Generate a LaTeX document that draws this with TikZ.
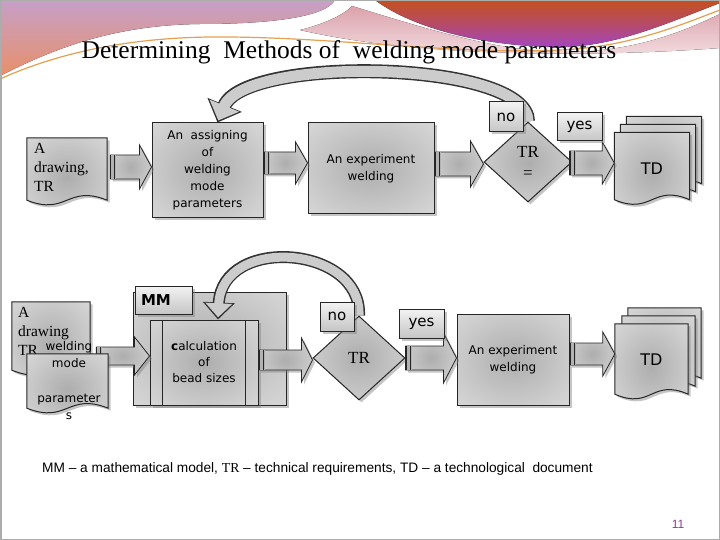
\documentclass[tikz,border=0pt]{standalone}
\usepackage{fontspec}
\setmainfont{Liberation Serif}
\newfontfamily\dvs{DejaVu Sans}
\newfontfamily\arl{Liberation Sans}
\usetikzlibrary{shapes.geometric,shadows,calc,arrows.meta}

\definecolor{swpurple}{HTML}{C6A0C8}
\definecolor{sworange}{HTML}{E8906A}
\definecolor{swred}{HTML}{C4501E}
\definecolor{swviolet}{HTML}{A445C0}
\definecolor{swpink}{HTML}{DCA2AC}
\definecolor{swgold}{HTML}{E2A050}
\definecolor{pagenum}{HTML}{8E3C8E}

\pgfdeclareradialshading{softgray}{\pgfpoint{0bp}{0bp}}{%
  color(0bp)=(gray!64); color(28bp)=(gray!38); color(50bp)=(gray!20); color(80bp)=(gray!12)}

\tikzset{
  shd/.style={drop shadow={shadow xshift=2.5pt,shadow yshift=-2.5pt,opacity=0.45}},
  boxst/.style={shd, draw=black!85, line width=1pt, shade, shading=softgray, inner sep=0pt},
  docst/.style={shd, draw=black!85, line width=1pt, shade, shading=softgray},
  arrst/.style={shd, draw=black!85, line width=0.8pt, shade, shading=softgray},
  tabst/.style={shd, draw=black!85, line width=1pt, top color=gray!10, bottom color=gray!45, inner sep=0pt},
  boxtxt/.style={font=\dvs\fontsize{12}{17}\selectfont, align=center},
  doctxt/.style={font=\rmfamily\fontsize{15.5}{19}\selectfont, align=left, anchor=north west, inner sep=0pt},
  tabtxt/.style={font=\dvs\fontsize{15}{15}\selectfont},
  docframe/.style={inner sep=0pt},
  curveout/.style={line width=14pt, draw=black!80, -{Triangle[length=19pt,width=36pt]}},
  curvein/.style={line width=11pt, draw=gray!40, shorten >=2.2pt, -{Triangle[length=16pt,width=31pt]}},
  curveoutb/.style={line width=12pt, draw=black!80, -{Triangle[length=17pt,width=31pt]}},
  curveinb/.style={line width=9pt, draw=gray!40, shorten >=2.2pt, -{Triangle[length=14pt,width=26pt]}},
}

% document shape drawn around a frame node; #2,#3 = shift right / up
\newcommand\docshape[3]{%
  \path[docst] let \p1=(#1.north west), \p2=(#1.south east), \n1={\x2-\x1} in
    (\x1+#2,\y1+#3) -- (\x2+#2,\y1+#3) -- (\x2+#2,\y2+#3)
    .. controls (\x1+0.5*\n1+#2,\y2+#3+16) and (\x1+0.5*\n1+#2,\y2+#3-16) .. (\x1+#2,\y2+#3) -- cycle;
}
% block arrow: #1 tail point, #2 tip point, #3 y (pixel), #4 shaft half, #5 head half, #6 head length
\newcommand\barrow[6]{%
  \path[arrst] let \p1=(#1), \p2=(#2), \p3=(0,#3) in
    (\x1,\y3+#4) -- (\x2-#6,\y3+#4) -- (\x2-#6,\y3+#5) -- (\x2,\y3) --
    (\x2-#6,\y3-#5) -- (\x2-#6,\y3-#4) -- (\x1,\y3-#4) -- cycle;
  \fill[gray!60] let \p1=(#1), \p3=(0,#3) in (\x1,\y3-#4) rectangle (\x1+6,\y3+#4);
  \draw[black!85, line width=0.9pt] let \p1=(#1), \p3=(0,#3) in
    (\x1+0.5,\y3-#4) -- (\x1+0.5,\y3+#4) (\x1+4.5,\y3-#4) -- (\x1+4.5,\y3+#4);
}

\begin{document}
\begin{tikzpicture}[x=1pt,y=-1pt]
\useasboundingbox (0,0) rectangle (720,540);
\fill[white] (0,0) rectangle (720,540);

% ---------- decorative header ----------
\fill[top color=swpurple, bottom color=sworange]
  (0,0) -- (335,0) .. controls (325,18) and (265,24) .. (200,24)
  .. controls (120,25) and (60,45) .. (0,76) -- cycle;
\fill[top color=swpink, bottom color=swpink!35]
  (300,30) .. controls (325,24) and (345,14) .. (352,6)
  .. controls (430,30) and (500,52) .. (565,52)
  .. controls (640,52) and (690,28) .. (720,14) -- (720,48)
  .. controls (600,57) and (420,58) .. (300,30) -- cycle;
\fill[top color=swred, bottom color=swviolet, middle color=swred!55!swviolet]
  (375,0) -- (720,0) -- (720,3) .. controls (670,22) and (615,47) .. (560,47)
  .. controls (490,47) and (415,30) .. (375,0) -- cycle;
\draw[swgold, line width=1.2pt] (0,79) .. controls (60,52) and (130,38) .. (210,37)
  .. controls (330,36) and (450,55) .. (560,50) .. controls (630,47) and (680,25) .. (720,10);

\node[font=\rmfamily\fontsize{25.5}{30}\selectfont, anchor=base] (title) at (349,59)
  {Determining\ \ Methods of\ \ welding mode parameters};

% ---------- top row ----------
\node[docframe, minimum width=80pt, minimum height=62pt] (doc1) at (67,169) {};
\docshape{doc1}{0}{0}
\node[doctxt] (doc1t) at (34,143) {A\\drawing,\\TR};

\node[boxst, boxtxt, minimum width=111pt, minimum height=95pt] (box1) at (207.5,170.5)
  {An\ \ assigning\\of\\welding\\mode\\parameters};
\node[boxst, boxtxt, minimum width=126pt, minimum height=91pt] (box2) at (371,168.5)
  {An experiment\\welding};
\node[diamond, boxst, minimum width=88pt, minimum height=80pt, align=center,
      font=\rmfamily\fontsize{17}{21}\selectfont] (dia1) at (528,162) {TR\\=};

\node[docframe, minimum width=75pt, minimum height=67pt] (td1) at (652,166) {};
\docshape{td1}{12}{16}
\docshape{td1}{6}{8}
\docshape{td1}{0}{0}
\node[tabtxt, font=\dvs\fontsize{16}{16}\selectfont] (td1t) at ([yshift=-3pt]td1.center) {TD};

\barrow{$(doc1.east)+(3,0)$}{box1.west}{167}{12}{22}{12}
\barrow{box1.east}{box2.west}{163}{11}{21}{12}
\barrow{box2.east}{dia1.west}{164}{12}{23}{13}
\barrow{$(dia1.east)+(-3,0)$}{td1.west}{163}{12}{21}{12}

\draw[curveout] (dia1.north) .. controls (528,60) and (245,55) .. ($(box1.north)+(10,0)$);
\draw[curvein] (dia1.north) .. controls (528,60) and (245,55) .. ($(box1.north)+(10,0)$);

\node[tabst, tabtxt, minimum width=34pt, minimum height=30pt] (no1) at (506,117) {no};
\node[tabst, tabtxt, minimum width=45pt, minimum height=28pt] (yes1) at (579.5,127) {yes};

% ---------- bottom row ----------
\node[boxst, minimum width=153pt, minimum height=113pt] (mm) at (209.5,348.5) {};
\node[tabst, font=\dvs\bfseries\fontsize{15}{15}\selectfont, minimum width=57pt,
      minimum height=28pt, text width=45pt, align=left] (mmtab) at (163.5,300) {MM};

\node[docframe, minimum width=78pt, minimum height=68pt] (doc2a) at (51,336) {};
\docshape{doc2a}{0}{0}
\node[doctxt] (doc2at) at (18,307) {A\\drawing\\TR};

\node[boxst, boxtxt, font=\dvs\fontsize{12}{16}\selectfont, minimum width=108pt,
      minimum height=85pt] (calc) at (204,362.5) {\textbf{c}alculation\\of\\bead sizes};
\draw[black!85, line width=1pt] ([xshift=13pt]calc.north west) -- ([xshift=13pt]calc.south west);
\draw[black!85, line width=1pt] ([xshift=-13pt]calc.north east) -- ([xshift=-13pt]calc.south east);

\node[diamond, boxst, minimum width=92pt, minimum height=84pt,
      font=\rmfamily\fontsize{17}{21}\selectfont] (dia2) at (359,358) {TR};
\node[boxst, boxtxt, minimum width=112pt, minimum height=91pt] (box3) at (513,359.5)
  {An experiment\\welding};

\node[docframe, minimum width=73pt, minimum height=70pt] (td2) at (651.5,359) {};
\docshape{td2}{13}{16}
\docshape{td2}{7}{8}
\docshape{td2}{0}{0}
\node[tabtxt, font=\dvs\fontsize{16}{16}\selectfont] (td2t) at ([yshift=-1pt]td2.center) {TD};

\barrow{$(doc2a.east)+(6,0)$}{calc.west}{356}{9}{19}{15}

\node[docframe, minimum width=81pt, minimum height=54pt] (doc2b) at (67.5,381) {};
\docshape{doc2b}{0}{0}
\node[font=\dvs\fontsize{12}{17}\selectfont, align=center, anchor=north, inner sep=0pt]
  (doc2bt) at (69,341) {welding\\mode\\[1pt]\\parameter\\s};

\barrow{calc.east}{dia2.west}{360}{10}{22}{11}
\barrow{dia2.east}{box3.west}{358}{12}{25}{13}
\barrow{box3.east}{td2.west}{354}{11}{22}{12}

\draw[curveoutb] (dia2.north) .. controls (362,245) and (222,235) .. ($(calc.north)+(14,0)$);
\draw[curveinb] (dia2.north) .. controls (362,245) and (222,235) .. ($(calc.north)+(14,0)$);

\node[tabst, tabtxt, minimum width=34pt, minimum height=29pt] (no2) at (337,316.5) {no};
\node[tabst, tabtxt, minimum width=45pt, minimum height=29pt] (yes2) at (421.5,323.5) {yes};

% ---------- legend ----------
\node[anchor=base west, inner sep=0pt, font=\arl\fontsize{13.7}{16}\selectfont] (legend) at (42,472)
  {MM – a mathematical model, {\rmfamily TR} – technical requirements, TD – a technological\ \ document};
\node[anchor=base, font=\arl\fontsize{12}{14}\selectfont, text=pagenum] (pnum) at (678,528) {11};

\draw[gray!65, line width=1.5pt] (0.75,0.75) rectangle (719.25,539.25);
\end{tikzpicture}
\end{document}
